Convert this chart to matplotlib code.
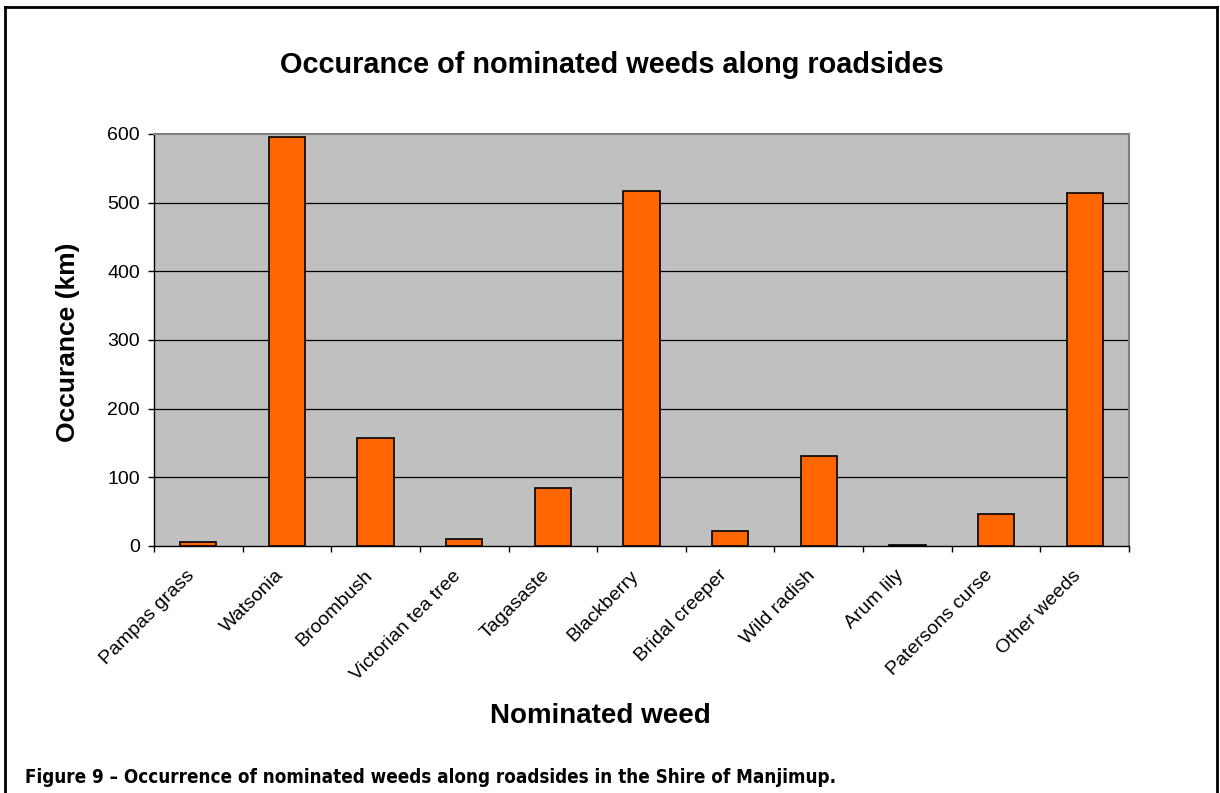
import matplotlib
matplotlib.use("Agg")
import matplotlib.pyplot as plt
import matplotlib.transforms as mtransforms
import numpy as np

categories = ["Pampas grass", "Watsonia", "Broombush", "Victorian tea tree", "Tagasaste",
              "Blackberry", "Bridal creeper", "Wild radish", "Arum lily", "Patersons curse",
              "Other weeds"]
values = [6, 596, 157, 10, 84, 517, 22, 131, 1, 47, 514]
yticks = [0, 100, 200, 300, 400, 500, 600]

W, H = 1220, 793
fig = plt.figure(figsize=(W / 100, H / 100), dpi=100)
fig.patch.set_facecolor("white")

# outer border (open at bottom)
fig.add_artist(plt.Line2D([5 / W, 5 / W], [0, 1 - 7 / H], transform=fig.transFigure, color="black", lw=2))
fig.add_artist(plt.Line2D([1217 / W, 1217 / W], [0, 1 - 7 / H], transform=fig.transFigure, color="black", lw=2))
fig.add_artist(plt.Line2D([5 / W, 1217 / W], [1 - 7 / H, 1 - 7 / H], transform=fig.transFigure, color="black", lw=2))

left, right, top, bottom = 154, 1129, 134, 546
ax = fig.add_axes([left / W, 1 - bottom / H, (right - left) / W, (bottom - top) / H])
ax.set_facecolor("#C0C0C0")

x = np.arange(len(categories))
ax.bar(x, values, width=0.41, color="#FF6600", edgecolor="black", linewidth=1.2, zorder=3)

ax.set_xlim(-0.5, len(categories) - 0.5)
ax.set_ylim(0, 600)
ax.set_yticks(yticks)
ax.set_yticklabels([str(t) for t in yticks], fontsize=14, fontfamily="Liberation Sans")
for t in yticks[1:-1]:
    ax.axhline(t, color="black", lw=0.9, zorder=1)

ax.set_xticks(np.arange(len(categories) + 1) - 0.5)
ax.set_xticklabels([])
ax.tick_params(axis="x", which="major", length=4.5, direction="out", width=1)
ax.tick_params(axis="y", length=4.5, direction="out", width=1, pad=5.5)

base = mtransforms.blended_transform_factory(ax.transData, ax.transAxes)
offset = mtransforms.ScaledTranslation(-12 / 100, -21 / 100, fig.dpi_scale_trans)
for xi, lab in zip(x, categories):
    ax.text(xi, 0, lab, transform=base + offset, rotation=45, ha="right", va="top",
            rotation_mode="anchor", fontsize=14, fontfamily="Liberation Sans", clip_on=False)

for s in ["top", "right"]:
    ax.spines[s].set_color("#808080")
    ax.spines[s].set_linewidth(1.5)
for s in ["left", "bottom"]:
    ax.spines[s].set_color("black")
    ax.spines[s].set_linewidth(1)

fig.text(612 / W, 1 - 65 / H, "Occurance of nominated weeds along roadsides", ha="center", va="center",
         fontsize=20.8, fontweight="bold", fontfamily="Liberation Sans")
fig.text(68 / W, 1 - 342 / H, "Occurance (km)", ha="center", va="center", rotation=90,
         fontsize=19, fontweight="bold", fontfamily="Liberation Sans")
fig.text(600 / W, 1 - 716 / H, "Nominated weed", ha="center", va="center",
         fontsize=20, fontweight="bold", fontfamily="Liberation Sans")
fig.text(25 / W, 1 - 783 / H, "Figure 9 \u2013 Occurrence of nominated weeds along roadsides in the Shire of Manjimup.",
         ha="left", va="baseline", fontsize=13.5, fontweight="bold",
         fontfamily="DejaVu Sans", fontstretch="condensed")

fig.savefig("out.png", dpi=100)
